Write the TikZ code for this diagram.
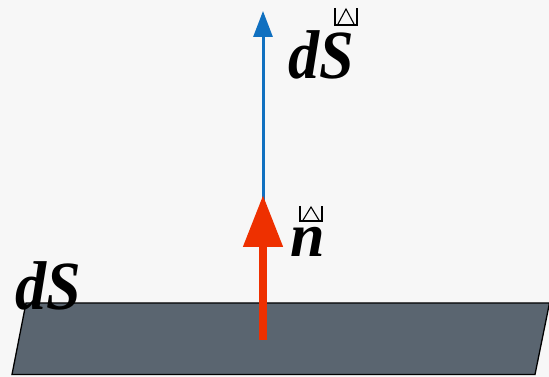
\documentclass[tikz,border=0pt]{standalone}
\usepackage{fontspec}
\setmainfont{Liberation Serif}
\usetikzlibrary{arrows.meta}
\definecolor{bg}{HTML}{F7F7F7}
\definecolor{slab}{HTML}{5A6570}
\definecolor{vblue}{HTML}{1070C0}
\definecolor{vred}{HTML}{EE3000}
\tikzset{
  lbl/.style={inner sep=0pt, anchor=base west, font=\fontsize{69}{69}\selectfont\bfseries\itshape, xscale=0.9},
  lbln/.style={inner sep=0pt, anchor=base west, font=\fontsize{62}{62}\selectfont\bfseries\itshape},
  missbox/.style={line width=1.1pt, black},
}
\newcommand{\missglyph}[3]{% #1 = x left, #2 = y top (image coords), #3 = height
  \draw[missbox] (#1,377-#2) -- (#1,377-#2-#3) -- (#1+22,377-#2-#3) -- (#1+22,377-#2);
  \draw[missbox] (#1+2.5,377-#2-#3) -- (#1+11,377-#2-1) -- (#1+19.5,377-#2-#3);
}
\begin{document}
\begin{tikzpicture}[x=1pt,y=1pt]
\fill[bg] (0,0) rectangle (549,377);
\useasboundingbox (0,0) rectangle (549,377);
% surface element
\draw[fill=slab, line width=1.3pt, line join=miter] (26,74) -- (549.5,74) -- (535,2.5) -- (12,2.5) -- cycle;
% arrows
\coordinate (base) at (263,37);
\coordinate (btip) at (263,366);
\coordinate (rtip) at (263,182);
\draw[vblue, line width=3pt, -{Triangle[length=26pt,width=19pt]}] (base) -- (btip);
\draw[vred, line width=8pt, -{Triangle[length=52pt,width=38pt]}] (base) -- (rtip);
% labels
\node[lbl] (dSv) at (288,298) {dS};
\node[lbln] (nv) at (290,120) {n};
\node[lbl] (dS) at (15,67) {dS};
\missglyph{335}{8}{17}
\missglyph{300}{206}{15}
\end{tikzpicture}
\end{document}
